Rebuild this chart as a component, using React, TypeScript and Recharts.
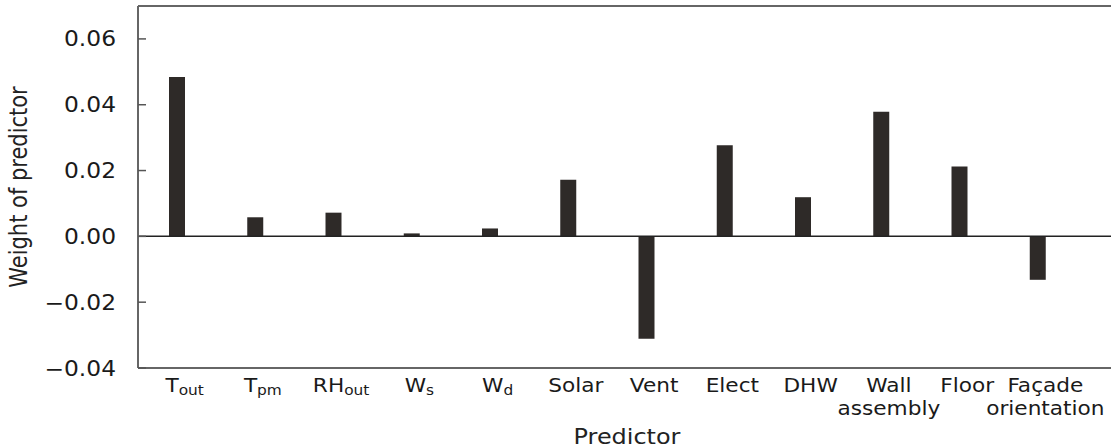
import React from 'react';
import { BarChart, Bar, XAxis, YAxis, ReferenceLine } from 'recharts';

const predictors = ['Tout', 'Tpm', 'RHout', 'Ws', 'Wd', 'Solar', 'Vent', 'Elect', 'DHW', 'Wall assembly', 'Floor', 'Façade orientation'];
const weights = [0.0484, 0.0058, 0.0072, 0.0009, 0.0024, 0.0172, -0.0311, 0.0277, 0.0119, 0.0379, 0.0212, -0.0132];
const tickMain = ['T', 'T', 'RH', 'W', 'W', 'Solar', 'Vent', 'Elect', 'DHW', 'Wall', 'Floor', 'Façade'];
const tickSub = ['out', 'pm', 'out', 's', 'd', '', '', '', '', '', '', ''];
const tickSecond = ['', '', '', '', '', '', '', '', '', 'assembly', '', 'orientation'];
const yTicks = [-0.04, -0.02, 0, 0.02, 0.04, 0.06];

const data = predictors.map((p, i) => ({ predictor: p, weight: weights[i] }));

const FONT = '"DejaVu Sans", sans-serif';
const STRETCH = 1.14;
const TEXT = '#1a1a1a';

const XTick = (props: any) => {
  const { x, y, payload } = props;
  const i = predictors.indexOf(payload.value);
  return (
    <g transform={`translate(${x + 7.5},${y}) scale(${STRETCH},1)`}>
      <text x={0} y={24} textAnchor="middle" fontFamily={FONT} fontSize={19} fill={TEXT}>
        {tickMain[i]}
        {tickSub[i] ? (
          <tspan fontSize={13.5} dy={3.5}>
            {tickSub[i]}
          </tspan>
        ) : null}
      </text>
      {tickSecond[i] ? (
        <text x={0} y={47} textAnchor="middle" fontFamily={FONT} fontSize={19} fill={TEXT}>
          {tickSecond[i]}
        </text>
      ) : null}
    </g>
  );
};

const YTick = (props: any) => {
  const { x, y, payload } = props;
  const v = payload.value as number;
  const s = (v < 0 ? '\u2212' : '') + Math.abs(v).toFixed(2);
  return (
    <g transform={`translate(${x},${y}) scale(${STRETCH},1)`}>
      <text x={0} y={7.5} textAnchor="end" fontFamily={FONT} fontSize={20.5} fill={TEXT}>
        {s}
      </text>
    </g>
  );
};

const XLabel = (props: any) => {
  const vb = props.viewBox;
  const cx = vb.x + vb.width / 2;
  const y = vb.y + vb.height - 4;
  return (
    <g transform={`translate(${cx},${y}) scale(${STRETCH},1)`}>
      <text x={0} y={0} textAnchor="middle" fontFamily={FONT} fontSize={21} fill="#222">
        Predictor
      </text>
    </g>
  );
};

const YLabel = (props: any) => {
  const vb = props.viewBox;
  const cx = vb.x + 27;
  const cy = vb.y + vb.height / 2;
  return (
    <text
      transform={`translate(${cx},${cy}) rotate(-90) scale(1,${STRETCH})`}
      x={0}
      y={0}
      textAnchor="middle"
      fontFamily={FONT}
      fontSize={21}
      fill="#222"
    >
      Weight of predictor
    </text>
  );
};

export default function App() {
  return (
    <div style={{ position: 'fixed', left: 0, top: 0, width: 1111, height: 448, overflow: 'hidden', background: '#fff' }}>
      <BarChart width={1116} height={448} data={data} margin={{ top: 6, right: 0, left: 0, bottom: 0 }}>
        <XAxis
          dataKey="predictor"
          height={80}
          padding={{ left: 0, right: 39 }}
          tickLine={false}
          tickSize={0}
          tickMargin={0}
          interval={0}
          axisLine={{ stroke: '#666', strokeWidth: 2 }}
          tick={<XTick />}
          label={(p: any) => <XLabel {...p} />}
        />
        <YAxis
          type="number"
          width={138}
          domain={[-0.04, 0.07]}
          ticks={yTicks}
          allowDataOverflow
          tickSize={-8}
          tickMargin={30}
          axisLine={{ stroke: '#666', strokeWidth: 2 }}
          tickLine={{ stroke: '#555', strokeWidth: 1.5 }}
          tick={<YTick />}
          label={(p: any) => <YLabel {...p} />}
        />
        <Bar dataKey="weight" fill="#2e2a28" barSize={16} isAnimationActive={false} />
        <ReferenceLine y={0} stroke="#222" strokeWidth={1.5} />
        <ReferenceLine y={0.07} stroke="#666" strokeWidth={2} />
      </BarChart>
    </div>
  );
}
